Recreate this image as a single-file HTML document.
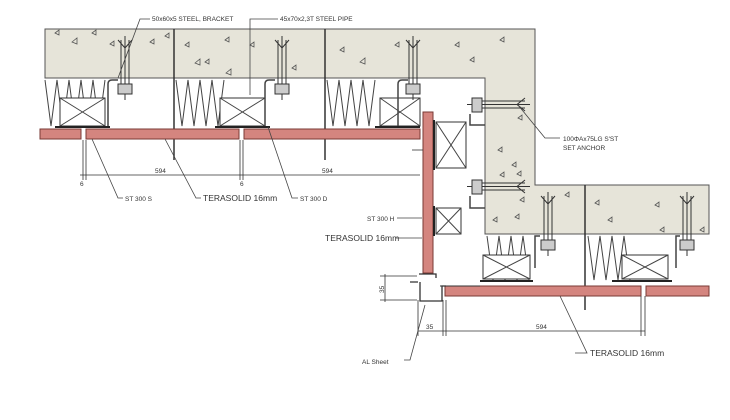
<!DOCTYPE html>
<html><head><meta charset="utf-8"><style>
html,body{margin:0;padding:0;background:#fff;width:730px;height:420px;overflow:hidden}
text{font-family:"Liberation Sans",sans-serif;fill:#333}
</style></head><body>
<svg width="730" height="420" viewBox="0 0 730 420" xmlns="http://www.w3.org/2000/svg">
<g stroke="#444" stroke-width="1" fill="none">
<path d="M45 29 H535 V185 H709 V234 H485 V78 H45 Z" fill="#e6e4d9" stroke="#555"/>
<!-- aggregate triangles -->
<g stroke="#555" stroke-width="0.8">
<path d="M55 33 l4 -3 v5 z M72 42 l5 -4 v6 z M92 33 l4 -3 v5 z M110 44 l4 -3 v5 z M150 42 l4 -3 v5 z M165 36 l4 -3 v5 z M185 45 l4 -3 v5 z M195 63 l5 -4 v6 z M205 62 l4 -3 v5 z M226 73 l5 -4 v6 z M225 40 l4 -3 v5 z M250 45 l4 -3 v5 z M292 68 l4 -3 v5 z M340 50 l4 -3 v5 z M360 62 l5 -4 v6 z M395 45 l4 -3 v5 z M455 45 l4 -3 v5 z M470 60 l4 -3 v5 z M500 40 l4 -3 v5 z M518 118 l4 -3 v5 z M498 150 l4 -3 v5 z M512 165 l4 -3 v5 z M500 175 l4 -3 v5 z M517 174 l4 -3 v5 z M520 200 l4 -3 v5 z M515 217 l4 -3 v5 z M565 195 l4 -3 v5 z M595 203 l4 -3 v5 z M608 220 l4 -3 v5 z M655 205 l4 -3 v5 z M660 230 l4 -3 v5 z M700 230 l4 -3 v5 z M493 220 l4 -3 v5 z"/>
</g>
<line x1="174" y1="29" x2="174" y2="160" stroke="#333" stroke-width="1.5"/>
<line x1="325" y1="29" x2="325" y2="160" stroke="#333" stroke-width="1.5"/>
<line x1="585" y1="185" x2="585" y2="310" stroke="#333" stroke-width="1.5"/>
<polyline points="45,80 51,126 57,80 63,126 69,80 75,126 81,80 87,126 93,80 99,126 105,80"/>
<polyline points="176,80 182,126 188,80 194,126 200,80 206,126 212,80 218,126 224,80"/>
<polyline points="327,80 333,126 339,80 345,126 351,80 357,126 363,80 369,126 375,80"/>
<polyline points="487,236 493,280 499,236 505,280 511,236 517,280 523,236 529,280"/>
<polyline points="588,236 594,280 600,236 606,280 612,236 618,280 624,236 630,280"/>
<g stroke="#333" fill="#fff">
<rect x="60" y="98" width="45" height="28"/><rect x="220" y="98" width="45" height="28"/><rect x="380" y="98" width="40" height="28"/>
<rect x="436" y="122" width="30" height="46"/><rect x="436" y="208" width="25" height="26"/>
<rect x="483" y="255" width="47" height="24"/><rect x="622" y="255" width="46" height="24"/>
</g>
<path d="M60 98 L105 126 M105 98 L60 126 M220 98 L265 126 M265 98 L220 126 M380 98 L420 126 M420 98 L380 126 M436 122 L466 168 M466 122 L436 168 M436 208 L461 234 M461 208 L436 234 M483 255 L530 279 M530 255 L483 279 M622 255 L668 279 M668 255 L622 279"/>
<path d="M118 80 H112 Q108 80 108 84 V126 M275 80 H269 Q265 80 265 84 V126 M408 80 H402 Q398 80 398 84 V126" stroke-width="1.5"/>
<path d="M485 125 H470 V114 M485 208 H470 V196 M540 236 H535 V268 M680 236 H676 V268" stroke-width="1.5"/>
<g stroke="#333">
<path d="M121 40 V92 M129 40 V92 M118 40 L125 48 L132 40 M125 36 V100 M278 40 V92 M286 40 V92 M275 40 L282 48 L289 40 M282 36 V100 M409 40 V92 M417 40 V92 M406 40 L413 48 L420 40 M413 36 V100 M544 196 V248 M552 196 V248 M541 196 L548 204 L555 196 M548 192 V256 M683 196 V248 M691 196 V248 M680 196 L687 204 L694 196 M687 192 V256"/>
<rect x="118" y="84" width="14" height="10" fill="#ccc"/><rect x="275" y="84" width="14" height="10" fill="#ccc"/><rect x="406" y="84" width="14" height="10" fill="#ccc"/><rect x="541" y="240" width="14" height="10" fill="#ccc"/><rect x="680" y="240" width="14" height="10" fill="#ccc"/>
<path d="M475 101 H525 M475 108 H525 M525 98 L517 104.5 L525 111 M467 104.5 H530 M475 183 H525 M475 190 H525 M525 180 L517 186.5 L525 193 M467 186.5 H530"/>
<rect x="472" y="98" width="10" height="14" fill="#ccc"/><rect x="472" y="180" width="10" height="14" fill="#ccc"/>
</g>
<g fill="#d4857f" stroke="#7a3a36">
<rect x="40" y="129" width="41" height="10"/><rect x="86" y="129" width="153" height="10"/><rect x="244" y="129" width="176" height="10"/>
<rect x="423" y="112" width="10" height="161"/>
<rect x="445" y="286" width="196" height="10"/><rect x="646" y="286" width="63" height="10"/>
</g>
<path d="M55 127 H110 M215 127 H270 M375 127 H420 M480 281 H533 M612 281 H672 M434 120 V170 M434 206 V236" stroke="#222" stroke-width="2"/>
<path d="M419 274 H436 V278 M418 282 H410 M420 282 V301 H442 V286 H446" stroke="#333" stroke-width="1.3"/>
<path d="M440 286 H480" stroke="#333"/>
<g stroke="#333" stroke-width="0.8">
<path d="M83 140 V180 M86 140 V180 M240 140 V180 M243 140 V180 M80 175 H420"/>
<path d="M418 300 V336 M443 300 V336 M446 300 V336 M641 296 V336 M645 296 V336 M418 331 H645"/>
<path d="M385 274 V302 M380 276 H417 M380 300 H417"/>
<path d="M412 150 H423"/>
</g>
<g stroke="#444" stroke-width="0.8">
<path d="M118 78 L140 19 H150 M250 95 L250 19 H278 M92 139 L118 198 H123 M165 139 L196 198 H201 M268 127 L292 198 H298 M518 105 L545 138 H560 M397 218 H422 M396 238 H422 M404 360 H410 L425 305 M575 353 H587 L560 296"/>
</g>
</g>
<g font-size="6.5">
<text x="152" y="21">50x60x5 STEEL, BRACKET</text>
<text x="280" y="21">45x70x2,3T  STEEL  PIPE</text>
<text x="125" y="201">ST 300 S</text>
<text x="300" y="201">ST 300 D</text>
<text x="563" y="141">100ΦAx75LG S'ST</text>
<text x="563" y="150">SET ANCHOR</text>
<text x="367" y="221">ST 300 H</text>
<text x="362" y="364">AL Sheet</text>
<text x="155" y="173">594</text>
<text x="322" y="173">594</text>
<text x="80" y="186">6</text>
<text x="240" y="186">6</text>
<text x="426" y="329">35</text>
<text x="536" y="329">594</text>
<text x="0" y="0" transform="translate(384,293) rotate(-90)">35</text>
</g>
<g font-size="8.5">
<text x="203" y="201">TERASOLID 16mm</text>
<text x="325" y="241">TERASOLID 16mm</text>
<text x="590" y="356">TERASOLID 16mm</text>
</g>
</svg>
</body></html>
